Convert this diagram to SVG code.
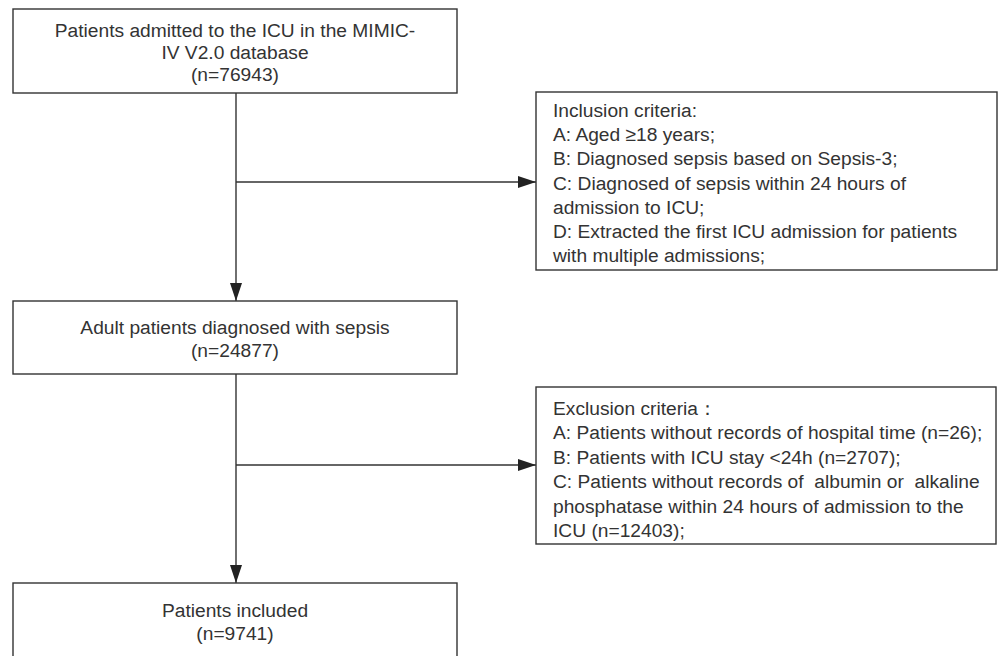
<svg xmlns="http://www.w3.org/2000/svg" width="1002" height="656" viewBox="0 0 1002 656">
<style>
.box{fill:#fff;stroke:#333;stroke-width:1.4}
.t{font-family:"Liberation Sans",Arial,sans-serif;font-size:19.2px;fill:#333}
.c{text-anchor:middle}
.ln{stroke:#333;stroke-width:1.4;fill:none}
</style>
<defs>
<marker id="ah" markerUnits="userSpaceOnUse" markerWidth="18" markerHeight="12" refX="18" refY="6" orient="auto">
<path d="M0,0 L18,6 L0,12 z" fill="#222"/>
</marker>
</defs>
<rect width="1002" height="656" fill="#fff"/>
<g id="connectors">
<line class="ln" x1="236" y1="93" x2="236" y2="301" marker-end="url(#ah)"/>
<line class="ln" x1="236" y1="182" x2="536" y2="182" marker-end="url(#ah)"/>
<line class="ln" x1="236" y1="374" x2="236" y2="583" marker-end="url(#ah)"/>
<line class="ln" x1="236" y1="465" x2="536" y2="465" marker-end="url(#ah)"/>
</g>
<g id="n1">
<rect class="box" x="13" y="9" width="444" height="84"/>
<text class="t c" x="235" y="37">Patients admitted to the ICU in the MIMIC-</text>
<text class="t c" x="235" y="59">IV V2.0 database</text>
<text class="t c" x="235" y="81">(n=76943)</text>
</g>
<g id="n2">
<rect class="box" x="536" y="92" width="461" height="178"/>
<text class="t" x="553" y="117">Inclusion criteria:</text>
<text class="t" x="553" y="141.2">A: Aged ≥18 years;</text>
<text class="t" x="553" y="165.4">B: Diagnosed sepsis based on Sepsis-3;</text>
<text class="t" x="553" y="189.6">C: Diagnosed of sepsis within 24 hours of</text>
<text class="t" x="553" y="213.8">admission to ICU;</text>
<text class="t" x="553" y="238">D: Extracted the first ICU admission for patients</text>
<text class="t" x="553" y="262.2">with multiple admissions;</text>
</g>
<g id="n3">
<rect class="box" x="13" y="301" width="444" height="73"/>
<text class="t c" x="235" y="334">Adult patients diagnosed with sepsis</text>
<text class="t c" x="235" y="357">(n=24877)</text>
</g>
<g id="n4">
<rect class="box" x="536" y="387" width="460" height="157"/>
<text class="t" x="553" y="415">Exclusion criteria：</text>
<text class="t" x="553" y="439.4">A: Patients without records of hospital time (n=26);</text>
<text class="t" x="553" y="463.8">B: Patients with ICU stay &lt;24h (n=2707);</text>
<text class="t" x="553" y="488.2" xml:space="preserve">C: Patients without records of  albumin or  alkaline</text>
<text class="t" x="553" y="512.6">phosphatase within 24 hours of admission to the</text>
<text class="t" x="553" y="537">ICU (n=12403);</text>
</g>
<g id="n5">
<rect class="box" x="13" y="583" width="444" height="80"/>
<text class="t c" x="235" y="617">Patients included</text>
<text class="t c" x="235" y="640">(n=9741)</text>
</g>
</svg>
